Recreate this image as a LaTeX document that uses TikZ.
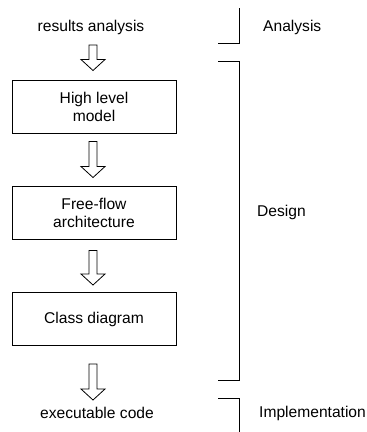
\documentclass[tikz,border=0pt]{standalone}
\usepackage{fontspec}
\setmainfont{Liberation Sans}
\usepackage{tikz}
\usetikzlibrary{calc}
\tikzstyle{flow}=[every node/.style={font=\fontsize{15.6}{18}\selectfont,text=black},
                x=1pt, y=-1pt]
\tikzstyle{stage}=[draw=black, line width=1pt, minimum width=164pt,
                minimum height=53pt, align=center, inner sep=2pt]
\tikzstyle{plabel}=[anchor=west, inner sep=0pt]
\tikzstyle{flowarr}=[draw=black, fill=white, line width=0.8pt, line join=miter]
\tikzstyle{phase}=[draw=black, line width=1pt]
\newcommand{\flowarrow}[2]{%
  \draw[flowarr] let \p1=(#1), \p2=(#2) in
    (\x1-4pt,\y1) -- (\x1+4pt,\y1) -- (\x1+4pt,\y2+11pt) -- (\x1+12pt,\y2+11pt)
    -- (\x1,\y2) -- (\x1-12pt,\y2+11pt) -- (\x1-4pt,\y2+11pt) -- cycle;}

\begin{document}
\begin{tikzpicture}[flow]
  \useasboundingbox (0,0) rectangle (367,432);
  % steps
  \node (ra) at (91,27) {results analysis};
  \node[stage] (hl) at (94,106.5) {High level\\model};
  \node[stage] (ff) at (94,212.5) {Free-flow\\architecture};
  \node[stage] (cd) at (94,319) {Class diagram};
  \node (ec) at (97,413) {executable code};
  % phases
  \node[plabel] (an) at (263,27) {Analysis};
  \node[plabel] (de) at (257,212) {Design};
  \node[plabel] (im) at (259,413) {Implementation};
  \draw[phase] (239,8) -- (239,43) -- (218,43);
  \draw[phase] (218,61) -- (239,61) -- (239,380) -- (218,380);
  \draw[phase] (218,398) -- (239,398) -- (239,432);
  % arrows
  \coordinate (a1s) at ($(ra.center)+(2,18)$);
  \coordinate (a1e) at ($(hl.north)+(-1,-9)$);
  \coordinate (a2s) at ($(hl.south)+(-1,8)$);
  \coordinate (a2e) at ($(ff.north)+(-1,-8)$);
  \coordinate (a3s) at ($(ff.south)+(-1,11)$);
  \coordinate (a3e) at ($(cd.north)+(-1,-7)$);
  \coordinate (a4s) at ($(cd.south)+(-1,18)$);
  \coordinate (a4e) at ($(ec.center)+(-4,-13)$);
  \flowarrow{a1s}{a1e}
  \flowarrow{a2s}{a2e}
  \flowarrow{a3s}{a3e}
  \flowarrow{a4s}{a4e}
\end{tikzpicture}
\end{document}
